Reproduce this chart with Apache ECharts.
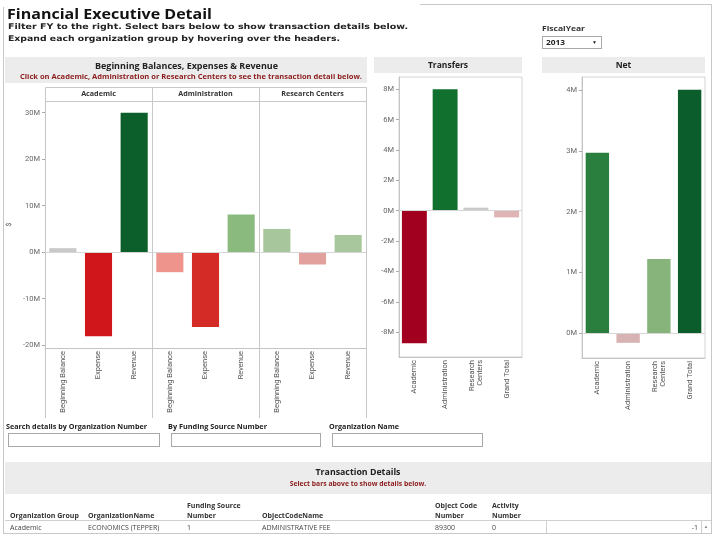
<!DOCTYPE html>
<html><head><meta charset="utf-8">
<script src="https://cdn.jsdelivr.net/npm/echarts@6/dist/echarts.min.js"></script>
<style>
html,body{margin:0;padding:0;background:#fff;width:720px;height:540px;overflow:hidden;}
#chart{position:absolute;left:0;top:0;width:720px;height:540px;z-index:1;}
.ov{position:absolute;z-index:0;box-sizing:border-box;}
.t{position:absolute;z-index:3;white-space:nowrap;line-height:1;transform-origin:0 50%;}
.band{background:#ececec;}
.box{position:absolute;box-sizing:border-box;border:1px solid #a9a9a9;background:#fff;z-index:2;}
.ln{position:absolute;z-index:2;background:#c8c8c8;}
</style></head><body>
<div id="chart"></div>
<script>
// ---------- data (values in millions of $) ----------
const bberCategories = ['Beginning Balance', 'Expense', 'Revenue'];
const orgGroups = ['Academic', 'Administration', 'Research Centers'];
const academicValues = [0.86, -18.1, 30.0];
const administrationValues = [-4.3, -16.1, 8.1];
const researchCentersValues = [5.0, -2.65, 3.7];
const bberTicks = [-20, -10, 0, 10, 20, 30];

const summaryCategories = ['Academic', 'Administration', 'Research\nCenters', 'Grand Total'];
const transferValues = [-8.74, 8.0, 0.2, -0.44];
const transferTicks = [-8, -6, -4, -2, 0, 2, 4, 6, 8];
const netValues = [2.97, -0.16, 1.22, 4.01];
const netTicks = [0, 1, 2, 3, 4];

// ---------- styles ----------
const academicColors = ['#c9c9c9', '#d0161b', '#0c5e2b'];
const administrationColors = ['#ee948c', '#d52b26', '#8bba7f'];
const researchCentersColors = ['#a7c69b', '#e3a19d', '#a8c79c'];
const transferColors = ['#a2001f', '#12702f', '#c9c9c9', '#deb4b4'];
const netColors = ['#2a7f3f', '#d8b3b3', '#86b47a', '#0b5d2b'];

const OPEN = "'Open Sans','Noto Sans',sans-serif";
const DJV = "'DejaVu Sans',sans-serif";
const AX = '#c4c4c4';
const labFont = {fontFamily: 'Roboto', fontSize: 7.5, color: '#555'};

function yAx(gi, min, max, ticks, show, extra) {
  return Object.assign({
    type: 'value', gridIndex: gi, min: min, max: max,
    axisLine: {show: show, lineStyle: {color: AX}},
    axisTick: {show: show, length: 3, customValues: ticks, lineStyle: {color: '#aaa'}},
    axisLabel: {show: show, customValues: ticks, formatter: v => v + 'M', margin: 5,
      fontFamily: 'Roboto', fontSize: 7.5, color: '#666'},
    splitLine: {show: false}
  }, extra || {});
}
function xAx(gi, cats) {
  return {
    type: 'category', gridIndex: gi, data: cats,
    axisLine: {onZero: false, lineStyle: {color: AX}},
    axisTick: {length: 3, lineStyle: {color: AX}},
    axisLabel: Object.assign({rotate: 90, margin: 3, interval: 0, lineHeight: 8}, labFont)
  };
}
function bars(gi, vals, colors, bw) {
  return {
    type: 'bar', xAxisIndex: gi, yAxisIndex: gi, barWidth: bw, animation: false,
    data: vals.map((v, i) => ({value: v, itemStyle: {color: colors[i]}})),
    markLine: {silent: true, symbol: 'none', label: {show: false}, animation: false,
      lineStyle: {color: '#d6d6d6', type: 'solid', width: 1}, data: [{yAxis: 0}]}
  };
}

const bMin = -20.6, bMax = 32.5;
const chart = echarts.init(document.getElementById('chart'));
chart.setOption({
  animation: false,
  grid: [
    {left: 45, top: 101, width: 107, height: 247},
    {left: 152, top: 101, width: 107, height: 247},
    {left: 259, top: 101, width: 107, height: 247},
    {left: 399, top: 77, width: 123, height: 280, show: true, borderColor: '#d4d4d4', borderWidth: 1},
    {left: 582, top: 77, width: 123, height: 281, show: true, borderColor: '#d4d4d4', borderWidth: 1}
  ],
  xAxis: [
    xAx(0, bberCategories), xAx(1, bberCategories), xAx(2, bberCategories),
    xAx(3, summaryCategories), xAx(4, summaryCategories)
  ],
  yAxis: [
    yAx(0, bMin, bMax, bberTicks, true, {name: '$', nameLocation: 'middle', nameGap: 32, nameRotate: 90,
      nameTextStyle: {fontFamily: 'Roboto', fontSize: 7, color: '#555'}}),
    yAx(1, bMin, bMax, bberTicks, false),
    yAx(2, bMin, bMax, bberTicks, false),
    yAx(3, -9.64, 8.81, transferTicks, true),
    yAx(4, -0.41, 4.22, netTicks, true)
  ],
  series: [
    bars(0, academicValues, academicColors, '76%'),
    bars(1, administrationValues, administrationColors, '76%'),
    bars(2, researchCentersValues, researchCentersColors, '76%'),
    bars(3, transferValues, transferColors, '81%'),
    bars(4, netValues, netColors, '76%')
  ],
  graphic: [
    {type: 'line', shape: {x1: 45.5, y1: 87.5, x2: 366.5, y2: 87.5}, style: {stroke: '#c8c8c8'}},
    {type: 'line', shape: {x1: 45.5, y1: 101.5, x2: 366.5, y2: 101.5}, style: {stroke: '#c8c8c8'}},
    {type: 'line', shape: {x1: 45.5, y1: 87.5, x2: 45.5, y2: 418}, style: {stroke: '#c8c8c8'}},
    {type: 'line', shape: {x1: 152.5, y1: 87.5, x2: 152.5, y2: 418}, style: {stroke: '#c8c8c8'}},
    {type: 'line', shape: {x1: 259.5, y1: 87.5, x2: 259.5, y2: 418}, style: {stroke: '#c8c8c8'}},
    {type: 'line', shape: {x1: 366.5, y1: 87.5, x2: 366.5, y2: 418}, style: {stroke: '#c8c8c8'}}
  ]
});

// ---------- HTML overlays ----------
function D(cls, x, y, w, h, css) {
  const el = document.createElement('div');
  el.className = cls; el.style.left = x + 'px'; el.style.top = y + 'px';
  el.style.width = w + 'px'; el.style.height = h + 'px';
  if (css) Object.assign(el.style, css);
  document.body.appendChild(el); return el;
}
function T(txt, x, y, size, o) {
  o = o || {};
  const el = document.createElement('div');
  el.className = 't'; el.textContent = txt;
  el.style.fontFamily = o.f || OPEN; el.style.fontSize = size + 'px';
  el.style.fontWeight = o.b ? 'bold' : 'normal'; el.style.color = o.c || '#333';
  document.body.appendChild(el);
  const r = el.getBoundingClientRect();
  const w = o.w || r.width;
  const left = o.a === 'c' ? x - w / 2 : (o.a === 'r' ? x - w : x);
  el.style.left = left + 'px'; el.style.top = (y - r.height / 2) + 'px';
  if (o.w) el.style.transform = 'scaleX(' + (o.w / r.width) + ')';
}

// frame
D('ln', 3, 7, 1, 527);
D('ln', 711, 4, 1, 530);
D('ln', 420, 4, 292, 1);
D('ln', 3, 533, 709, 1);
D('ln', 5, 520, 706, 1, {background: '#d0d0d0'});

// header bands
D('ov band', 5, 57, 362, 26);
D('ov band', 374, 57, 148, 16);
D('ov band', 542, 57, 163, 16);
D('ov band', 5, 462, 706, 32);

T('Financial Executive Detail', 7, 13, 15, {b: 1, c: '#111', w: 205});
T('Filter FY to the right. Select bars below to show transaction details below.', 8, 27, 7.8, {b: 1, f: DJV, c: '#222', w: 400});
T('Expand each organization group by hovering over the headers.', 8, 39, 7.8, {b: 1, f: DJV, c: '#222', w: 332});

T('FiscalYear', 542, 28, 7, {b: 1, w: 43, c: '#333'});
D('box', 542, 36, 60, 13);
T('2013', 546, 42.5, 7, {b: 1, w: 19, c: '#222'});
T('\u25BC', 592, 42.5, 5, {c: '#222'});

T('Beginning Balances, Expenses & Revenue', 186.5, 66, 8.5, {b: 1, a: 'c', w: 183, c: '#222'});
T('Click on Academic, Administration or Research Centers to see the transaction detail below.', 191, 77, 6.8, {b: 1, a: 'c', w: 342, c: '#8b1a1a'});
T(orgGroups[0], 98.5, 94, 7.2, {b: 1, a: 'c', c: '#333'});
T(orgGroups[1], 205.5, 94, 7.2, {b: 1, a: 'c', c: '#333'});
T(orgGroups[2], 312.5, 94, 7.2, {b: 1, a: 'c', c: '#333'});
T('Transfers', 448, 65, 8.5, {b: 1, a: 'c', c: '#222'});
T('Net', 623.5, 65, 8.5, {b: 1, a: 'c', c: '#222'});

T('Search details by Organization Number', 6, 426, 7, {b: 1, w: 141, c: '#222'});
T('By Funding Source Number', 168, 426, 7, {b: 1, w: 99, c: '#222'});
T('Organization Name', 329, 426, 7, {b: 1, w: 70, c: '#222'});
D('box', 8, 433, 152, 14);
D('box', 171, 433, 150, 14);
D('box', 332, 433, 151, 14);

T('Transaction Details', 358, 472, 8.8, {b: 1, a: 'c', c: '#222'});
T('Select bars above to show details below.', 358, 484, 6.8, {b: 1, a: 'c', c: '#8b1a1a'});

const H = {b: 1, c: '#333'};
T('Organization Group', 10, 515, 7, H);
T('OrganizationName', 88, 515, 7, H);
T('Funding Source', 187, 505, 7, H);
T('Number', 187, 515, 7, H);
T('ObjectCodeName', 262, 515, 7, H);
T('Object Code', 435, 505, 7, H);
T('Number', 435, 515, 7, H);
T('Activity', 492, 505, 7, H);
T('Number', 492, 515, 7, H);

const R = {c: '#444'};
T('Academic', 10, 527, 7, R);
T('ECONOMICS (TEPPER)', 88, 527, 7, R);
T('1', 187, 527, 7, R);
T('ADMINISTRATIVE FEE', 262, 527, 7, R);
T('89300', 435, 527, 7, R);
T('0', 492, 527, 7, R);
D('ln', 546, 520, 1, 13, {background: '#d0d0d0'});
D('ln', 701, 520, 1, 13, {background: '#d0d0d0'});
T('-1', 698, 527, 7, {a: 'r', c: '#444'});
T('\u25B2', 706, 526, 4.5, {a: 'c', c: '#888'});
</script>
</body></html>
